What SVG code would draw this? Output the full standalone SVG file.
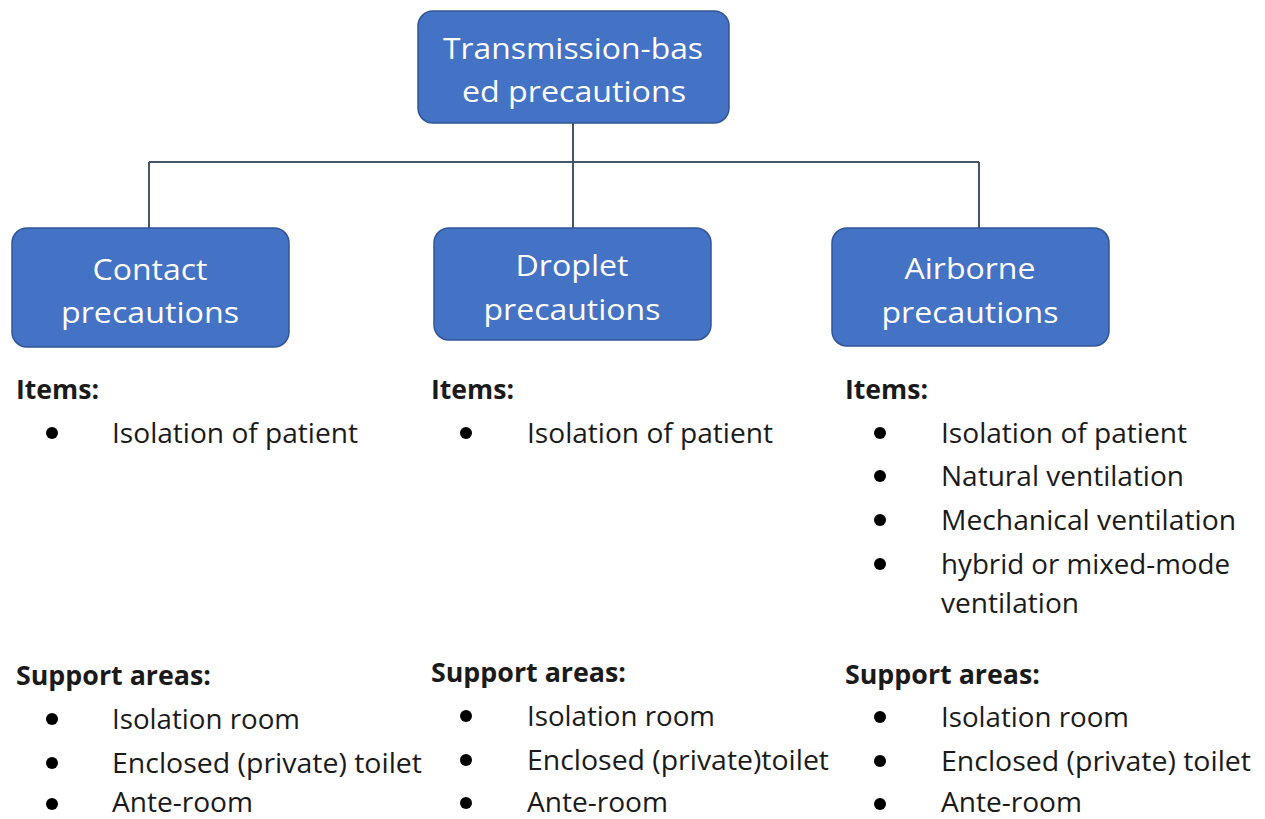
<svg xmlns="http://www.w3.org/2000/svg" width="1265" height="819" viewBox="0 0 1265 819">
<style>
.box{fill:#4472C4;stroke:#2F5597;stroke-width:1.5}
.bt{font-family:"Open Sans","Liberation Sans",sans-serif;font-size:30px;fill:#ffffff;text-anchor:middle}
.t{font-family:"Open Sans","Liberation Sans",sans-serif;font-size:27px;fill:#1a1a1a}
.h{font-family:"Open Sans","Liberation Sans",sans-serif;font-size:27px;font-weight:bold;fill:#1a1a1a}
.conn{stroke:#44546A;stroke-width:2;fill:none}
.dot{fill:#000000}
</style>
<rect width="1265" height="819" fill="#ffffff"/>
<g id="connectors">
<path class="conn" d="M573,123 V228"/>
<path class="conn" d="M149,162 H979"/>
<path class="conn" d="M149,162 V228"/>
<path class="conn" d="M979,162 V228"/>
</g>
<g id="node-root">
<rect class="box" x="418" y="11" width="311" height="112" rx="15"/>
<text class="bt" x="573" y="59" textLength="260" lengthAdjust="spacingAndGlyphs">Transmission-bas</text>
<text class="bt" x="574" y="102" textLength="224" lengthAdjust="spacingAndGlyphs">ed precautions</text>
</g>
<g id="node-contact">
<rect class="box" x="12" y="228" width="277" height="119" rx="15"/>
<text class="bt" x="150" y="280" textLength="115" lengthAdjust="spacingAndGlyphs">Contact</text>
<text class="bt" x="150" y="323" textLength="178" lengthAdjust="spacingAndGlyphs">precautions</text>
</g>
<g id="node-droplet">
<rect class="box" x="434" y="228" width="277" height="112" rx="15"/>
<text class="bt" x="572" y="276" textLength="113" lengthAdjust="spacingAndGlyphs">Droplet</text>
<text class="bt" x="572" y="320" textLength="177" lengthAdjust="spacingAndGlyphs">precautions</text>
</g>
<g id="node-airborne">
<rect class="box" x="832" y="228" width="277" height="118" rx="15"/>
<text class="bt" x="970" y="279" textLength="131" lengthAdjust="spacingAndGlyphs">Airborne</text>
<text class="bt" x="970" y="323" textLength="177" lengthAdjust="spacingAndGlyphs">precautions</text>
</g>
<g id="list-contact">
<text class="h" x="16" y="399" textLength="83" lengthAdjust="spacingAndGlyphs">Items:</text>
<circle class="dot" cx="52" cy="433" r="6"/>
<text class="t" x="112" y="443" textLength="246" lengthAdjust="spacingAndGlyphs">Isolation of patient</text>
<text class="h" x="16" y="685" textLength="195" lengthAdjust="spacingAndGlyphs">Support areas:</text>
<circle class="dot" cx="52" cy="719" r="6"/>
<text class="t" x="112" y="729" textLength="188" lengthAdjust="spacingAndGlyphs">Isolation room</text>
<circle class="dot" cx="52" cy="763" r="6"/>
<text class="t" x="112" y="773" textLength="310" lengthAdjust="spacingAndGlyphs">Enclosed (private) toilet</text>
<circle class="dot" cx="52" cy="804" r="6"/>
<text class="t" x="112" y="812" textLength="141" lengthAdjust="spacingAndGlyphs">Ante-room</text>
</g>
<g id="list-droplet">
<text class="h" x="431" y="399" textLength="83" lengthAdjust="spacingAndGlyphs">Items:</text>
<circle class="dot" cx="466" cy="433" r="6"/>
<text class="t" x="527" y="443" textLength="246" lengthAdjust="spacingAndGlyphs">Isolation of patient</text>
<text class="h" x="431" y="682" textLength="195" lengthAdjust="spacingAndGlyphs">Support areas:</text>
<circle class="dot" cx="466" cy="716" r="6"/>
<text class="t" x="527" y="726" textLength="188" lengthAdjust="spacingAndGlyphs">Isolation room</text>
<circle class="dot" cx="466" cy="760" r="6"/>
<text class="t" x="527" y="770" textLength="302" lengthAdjust="spacingAndGlyphs">Enclosed (private)toilet</text>
<circle class="dot" cx="466" cy="803" r="6"/>
<text class="t" x="527" y="812" textLength="141" lengthAdjust="spacingAndGlyphs">Ante-room</text>
</g>
<g id="list-airborne">
<text class="h" x="845" y="399" textLength="83" lengthAdjust="spacingAndGlyphs">Items:</text>
<circle class="dot" cx="880" cy="433" r="6"/>
<text class="t" x="941" y="443" textLength="246" lengthAdjust="spacingAndGlyphs">Isolation of patient</text>
<circle class="dot" cx="880" cy="476" r="6"/>
<text class="t" x="941" y="486" textLength="243" lengthAdjust="spacingAndGlyphs">Natural ventilation</text>
<circle class="dot" cx="880" cy="520" r="6"/>
<text class="t" x="941" y="530" textLength="295" lengthAdjust="spacingAndGlyphs">Mechanical ventilation</text>
<circle class="dot" cx="880" cy="564" r="6"/>
<text class="t" x="941" y="574" textLength="289" lengthAdjust="spacingAndGlyphs">hybrid or mixed-mode</text>
<text class="t" x="941" y="613" textLength="138" lengthAdjust="spacingAndGlyphs">ventilation</text>
<text class="h" x="845" y="684" textLength="195" lengthAdjust="spacingAndGlyphs">Support areas:</text>
<circle class="dot" cx="880" cy="717" r="6"/>
<text class="t" x="941" y="727" textLength="188" lengthAdjust="spacingAndGlyphs">Isolation room</text>
<circle class="dot" cx="880" cy="761" r="6"/>
<text class="t" x="941" y="771" textLength="310" lengthAdjust="spacingAndGlyphs">Enclosed (private) toilet</text>
<circle class="dot" cx="880" cy="804" r="6"/>
<text class="t" x="941" y="812" textLength="141" lengthAdjust="spacingAndGlyphs">Ante-room</text>
</g>
</svg>
